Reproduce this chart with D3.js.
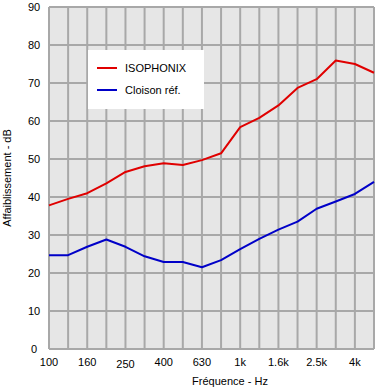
<!DOCTYPE html>
<html>
<head>
<meta charset="utf-8">
<script src="https://cdn.jsdelivr.net/npm/d3@7"></script>
<style>
  body { margin: 0; background: #fff; }
  text { font-family: "Liberation Sans", Arial, sans-serif; font-size: 11px; fill: #000; }
</style>
</head>
<body>
<div id="chart"></div>
<script>
var WIDTH = 375;
var HEIGHT = 389;
var margin = { top: 7, right: 1, bottom: 40, left: 49 };

// third-octave bands
var FREQS = ["100", "125", "160", "200", "250", "315", "400", "500", "630", "800",
  "1k", "1.25k", "1.6k", "2k", "2.5k", "3.15k", "4k", "5k"];
var TICK_LABELS = ["100", "160", "250", "400", "630", "1k", "1.6k", "2.5k", "4k"];
var Y_TICKS = [0, 10, 20, 30, 40, 50, 60, 70, 80, 90];

var SERIES_NAMES = ["ISOPHONIX", "Cloison réf."];
var SERIES_COLORS = ["#e00000", "#0000c8"];
var isophonix = [37.8, 39.5, 41.0, 43.6, 46.6, 48.1, 48.9, 48.4, 49.7, 51.5,
  58.4, 60.8, 64.1, 68.7, 71.0, 75.9, 75.0, 72.7];
var cloison = [24.7, 24.7, 26.9, 28.8, 26.9, 24.4, 22.9, 22.9, 21.5, 23.4,
  26.3, 29.0, 31.4, 33.5, 36.9, 38.8, 40.8, 44.0];

var svg = d3.select("#chart").append("svg")
  .attr("width", WIDTH)
  .attr("height", HEIGHT);

var w = WIDTH - margin.left - margin.right;
var h = HEIGHT - margin.top - margin.bottom;

var x = d3.scalePoint().domain(FREQS).range([0, w]);
var y = d3.scaleLinear().domain([0, 90]).range([h, 0]);

var g = svg.append("g")
  .attr("transform", "translate(" + margin.left + "," + margin.top + ")");

g.append("rect")
  .attr("width", w)
  .attr("height", h)
  .attr("fill", "#e6e6e6");

// grid
g.selectAll(".vgrid").data(FREQS).enter().append("line")
  .attr("x1", d => x(d)).attr("x2", d => x(d))
  .attr("y1", 0).attr("y2", h)
  .attr("stroke", "#a8a8a8").attr("stroke-width", 2);

g.selectAll(".hgrid").data(Y_TICKS).enter().append("line")
  .attr("x1", 0).attr("x2", w)
  .attr("y1", d => y(d)).attr("y2", d => y(d))
  .attr("stroke", "#a8a8a8").attr("stroke-width", 2);

// axes labels
g.selectAll(".ylab").data(Y_TICKS).enter().append("text")
  .attr("x", -15)
  .attr("y", d => y(d))
  .attr("dy", "0.35em")
  .attr("text-anchor", "middle")
  .text(d => d);

g.selectAll(".xlab").data(TICK_LABELS).enter().append("text")
  .attr("x", d => x(d))
  .attr("y", h + 17)
  .attr("dy", d => d == "250" ? 2 : 0)
  .attr("text-anchor", "middle")
  .text(d => d);

svg.append("text")
  .attr("x", 230)
  .attr("y", 385)
  .attr("text-anchor", "middle")
  .text("Fréquence - Hz");

svg.append("text")
  .attr("transform", "translate(11," + (margin.top + h / 2) + ") rotate(-90)")
  .attr("text-anchor", "middle")
  .text("Affaiblissement - dB");

// curves
var line = d3.line()
  .x((d, i) => x(FREQS[i]))
  .y(d => y(d));

[isophonix, cloison].forEach(function(s, i) {
  g.append("path")
    .attr("d", line(s))
    .attr("fill", "none")
    .attr("stroke", SERIES_COLORS[i])
    .attr("stroke-width", 2)
    .attr("stroke-linejoin", "round");
});

// legend
var leg = svg.append("g").attr("transform", "translate(88,50)");
leg.append("rect")
  .attr("width", 116)
  .attr("height", 59)
  .attr("fill", "#fff");

SERIES_NAMES.forEach(function(name, i) {
  leg.append("line")
    .attr("x1", 9).attr("x2", 29)
    .attr("y1", 18 + i * 22).attr("y2", 18 + i * 22)
    .attr("stroke", SERIES_COLORS[i])
    .attr("stroke-width", 2);
  leg.append("text")
    .attr("x", 37)
    .attr("y", 18 + i * 22)
    .attr("dy", "0.35em")
    .text(name);
});
</script>
</body>
</html>
